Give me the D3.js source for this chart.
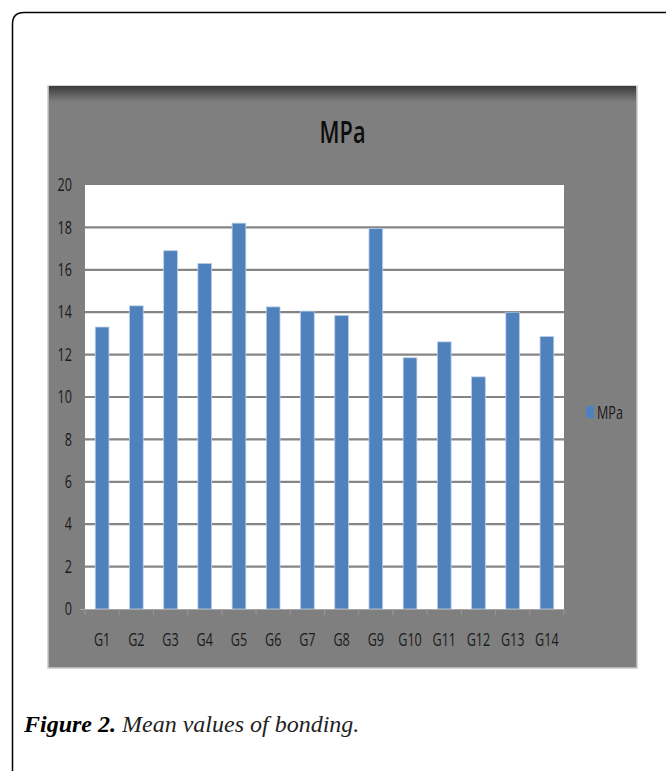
<!DOCTYPE html>
<html>
<head>
<meta charset="utf-8">
<script src="https://cdn.jsdelivr.net/npm/d3@7"></script>
<style>
  body { margin: 0; background: #fff; }
  svg { display: block; }
</style>
</head>
<body>
<script>
// data
const groups = ["G1","G2","G3","G4","G5","G6","G7","G8","G9","G10","G11","G12","G13","G14"];
const mpaValues = [13.3, 14.3, 16.9, 16.3, 18.2, 14.25, 14.05, 13.85, 17.95, 11.85, 12.6, 10.95, 14.0, 12.85];
const yTicks = [0, 2, 4, 6, 8, 10, 12, 14, 16, 18, 20];
const seriesName = "MPa";

function main(){
    const W = 666, H = 771;
    const sx = 0.7; // chart text is squeezed horizontally

    const svg = d3.select("body").append("svg")
        .attr("width", W)
        .attr("height", H);

    // page frame, rounded top-left corner
    svg.append("path")
        .attr("d", "M12.5,780 L12.5,24 Q12.5,12.5 24,12.5 L680,12.5")
        .attr("fill", "none")
        .attr("stroke", "#000")
        .attr("stroke-width", 1.5);

    // gray chart panel
    const panel = {x: 48, y: 86, w: 589, h: 582};
    const defs = svg.append("defs");
    const grad = defs.append("linearGradient")
        .attr("id", "topShade").attr("x1", 0).attr("y1", 0).attr("x2", 0).attr("y2", 1);
    grad.append("stop").attr("offset", "0%").attr("stop-color", "#3a3a3a");
    grad.append("stop").attr("offset", "100%").attr("stop-color", "#7f7f7f");

    svg.append("rect")
        .attr("x", panel.x).attr("y", panel.y)
        .attr("width", panel.w).attr("height", panel.h)
        .attr("fill", "#7f7f7f")
        .attr("stroke", "#c8c8c8")
        .attr("stroke-width", 1.5);
    svg.append("rect")
        .attr("x", panel.x + 1).attr("y", panel.y)
        .attr("width", panel.w - 2).attr("height", 16)
        .attr("fill", "url(#topShade)");

    // title
    svg.append("text")
        .attr("transform", `translate(${panel.x + panel.w / 2},143) scale(${sx},1)`)
        .attr("text-anchor", "middle")
        .attr("font-family", "'Open Sans', sans-serif")
        .attr("font-weight", 600)
        .attr("font-size", "31px")
        .attr("fill", "#0d0d0d")
        .text(seriesName);

    // plot area
    const plot = {left: 85, right: 564, top: 185, bottom: 609};
    const x = d3.scaleBand().domain(groups).range([plot.left, plot.right]).paddingInner(0.6).paddingOuter(0.3);
    const xEdges = d3.scaleBand().domain(groups).range([plot.left, plot.right]);
    const y = d3.scaleLinear().domain([0, 20]).range([plot.bottom, plot.top]);

    svg.append("rect")
        .attr("x", plot.left).attr("y", plot.top)
        .attr("width", plot.right - plot.left).attr("height", plot.bottom - plot.top)
        .attr("fill", "#fff");

    // gridlines
    svg.append("g")
        .selectAll("line")
        .data(yTicks.filter(d => d > 0 && d < 20))
        .join("line")
        .attr("x1", plot.left).attr("x2", plot.right)
        .attr("y1", d => y(d)).attr("y2", d => y(d))
        .attr("stroke", "#858585")
        .attr("stroke-width", 2.2);

    // y axis
    const yAxis = svg.append("g")
        .attr("transform", `translate(${plot.left},0)`)
        .call(d3.axisLeft(y).tickValues(yTicks).tickSize(0).tickPadding(13));
    yAxis.select(".domain").remove();
    yAxis.selectAll("text")
        .attr("font-family", "'Open Sans', sans-serif")
        .attr("font-size", "18px")
        .attr("fill", "#1a1a1a")
        .attr("x", -13 / sx)
        .attr("transform", `scale(${sx},1)`);

    // bars
    svg.append("g")
        .selectAll("rect")
        .data(groups.map((g, i) => ({g, v: mpaValues[i]})))
        .join("rect")
        .attr("x", d => x(d.g))
        .attr("y", d => y(d.v))
        .attr("width", x.bandwidth())
        .attr("height", d => y(0) - y(d.v))
        .attr("fill", "#4f81bd")
        .attr("stroke", "#b9cde6")
        .attr("stroke-width", 0.8);

    // x axis line with category tick marks
    const xAxis = svg.append("g")
        .attr("transform", `translate(0,${plot.bottom})`)
        .call(d3.axisBottom(xEdges).tickSize(0).tickPadding(0));
    xAxis.select(".domain")
        .attr("d", `M${plot.left - 5},0.5H${plot.right}`)
        .attr("stroke", "#a6a6a6")
        .attr("stroke-width", 1.2);
    xAxis.selectAll(".tick text")
        .attr("y", 37)
        .attr("dy", 0)
        .attr("font-family", "'Open Sans', sans-serif")
        .attr("font-size", "18px")
        .attr("fill", "#1a1a1a")
        .attr("transform", `scale(${sx},1)`);
    svg.append("g")
        .selectAll("line")
        .data(groups.concat(["end"]))
        .join("line")
        .attr("x1", (d, i) => plot.left + i * xEdges.step())
        .attr("x2", (d, i) => plot.left + i * xEdges.step())
        .attr("y1", plot.bottom)
        .attr("y2", plot.bottom + 6)
        .attr("stroke", "#9a9a9a")
        .attr("stroke-width", 1);

    // legend
    svg.append("rect")
        .attr("x", 586).attr("y", 406)
        .attr("width", 8).attr("height", 12)
        .attr("fill", "#4f81bd");
    svg.append("text")
        .attr("transform", `translate(597,419) scale(${sx},1)`)
        .attr("font-family", "'Open Sans', sans-serif")
        .attr("font-size", "18px")
        .attr("fill", "#1a1a1a")
        .text(seriesName);

    // caption
    const cap = svg.append("text")
        .attr("x", 24).attr("y", 732)
        .attr("font-family", "'Liberation Serif', 'DejaVu Serif', serif")
        .attr("font-style", "italic")
        .attr("font-size", "24px")
        .attr("fill", "#000");
    cap.append("tspan").attr("font-weight", "bold").text("Figure 2.");
    cap.append("tspan").attr("fill", "#222").text(" Mean values of bonding.");
}
main();
</script>
</body>
</html>
